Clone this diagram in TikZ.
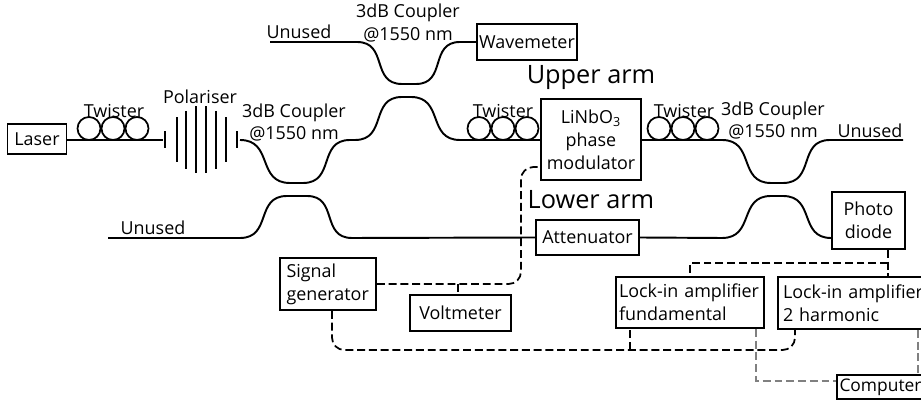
\documentclass[tikz,border=0pt]{standalone}
\usepackage{fontspec}
\setmainfont{Open Sans}
\usetikzlibrary{calc}

\begin{document}
\begin{tikzpicture}[
    x=0.02cm, y=-0.02cm,
    box/.style={draw, line width=1pt, inner sep=0pt, align=center},
    fibre/.style={line width=1.1pt},
    sbend/.style={out=0, in=180, looseness=1.3},
    wire/.style={line width=1pt, dash pattern=on 4.5pt off 2.2pt, rounded corners=7pt},
    greywire/.style={wire, gray, rounded corners=0pt},
    tag/.style={font=\fontsize{10.2}{12}\selectfont, inner sep=0pt},
    arm/.style={font=\fontsize{14.4}{16}\selectfont, inner sep=0pt},
    twist/.style={circle, draw, line width=1pt, minimum size=0.46cm, inner sep=0pt},
    blade/.style={line width=0.8pt},
  ]

  \useasboundingbox (0,0) rectangle (921,401);

  % Boxes
  \node[box, tag, minimum width=1.18cm, minimum height=0.6cm] (laser) at (37,139) {Laser};
  \node[box, tag, minimum width=2cm, minimum height=0.72cm] (wavemeter) at (527,42) {Wavemeter};
  \node[box, tag, minimum width=2cm, minimum height=1.62cm, align=center] (modulator) at (591,139.5)
    {LiNbO\textsubscript{3}\\[1pt]phase\\[1pt]modulator};
  \node[box, tag, minimum width=2.06cm, minimum height=0.7cm] (attenuator) at (587.5,237.5) {Attenuator};
  \node[box, tag, minimum width=1.46cm, minimum height=1.14cm] (diode) at (868.5,220.5) {Photo\\[1pt]diode};
  \node[box, tag, minimum width=1.92cm, minimum height=1.04cm, text width=1.66cm, align=left] (siggen) at (328,284)
    {Signal\\[1pt]generator};
  \node[box, tag, minimum width=2.02cm, minimum height=0.72cm] (voltmeter) at (460.5,313) {Voltmeter};
  \node[box, tag, minimum width=2.96cm, minimum height=1.02cm, text width=2.84cm, align=left] (lockfund) at (690,302.5)
    {Lock-in amplifier\\[1pt]fundamental};
  \node[box, tag, minimum width=3.2cm, minimum height=1.04cm, text width=3cm, align=left] (lockharm) at (858,303)
    {Lock-in amplifier\\[1pt]2 harmonic};
  \node[box, tag, font=\fontsize{9.9}{12}\selectfont, minimum width=1.9cm, minimum height=0.48cm, text width=1.8cm, align=left] (computer) at (884.5,387) {Computer};

  % Labels
  \node[tag] (twa) at (114,111) {Twister};
  \node[tag] (twb) at (503,111) {Twister};
  \node[tag] (twc) at (684,111) {Twister};
  \node[tag] (pol) at (200,97) {Polariser};
  \node[tag, align=center] (cpa) at (294,122.5) {3dB Coupler\\[1pt]@1550 nm};
  \node[tag, align=center] (cpb) at (408,23) {3dB Coupler\\[1pt]@1550 nm};
  \node[tag, align=center] (cpc) at (773,120.5) {3dB Coupler\\[1pt]@1550 nm};
  \node[tag] (una) at (299,32) {Unused};
  \node[tag] (unb) at (153,228) {Unused};
  \node[tag] (unc) at (870,131) {Unused};
  \node[arm] (upper) at (591,78) {Upper arm};
  \node[arm] (lower) at (591,200) {Lower arm};

  % Twisters
  \foreach \cx [count=\i] in {89,113,137} \node[twist] (la\i) at (\cx,128.5) {};
  \foreach \cx [count=\i] in {479,503,527} \node[twist] (lb\i) at (\cx,128.5) {};
  \foreach \cx [count=\i] in {659,683,707} \node[twist] (lc\i) at (\cx,128.5) {};

  % Polariser
  \foreach \px/\half in {165/8.5, 177/22.5, 186/29, 196/33.5, 206/33.5, 216/29, 226/22.5, 237/8.5}
    \draw[blade] (\px,140-\half) -- (\px,140+\half);
  \coordinate (polin) at (163,140);
  \coordinate (polout) at (240,140);

  % Fibre ends
  \coordinate (ua) at (270,42);
  \coordinate (ub) at (108,238);
  \coordinate (uc) at (903,140);

  % Upper fibre
  \draw[fibre] (laser.east |- polin) -- (polin);
  \draw[fibre] (polout) to[sbend] (290,183) -- (303,183) to[sbend] (350,140) -- (355,140)
    to[sbend] (402,97) -- (411,97) to[sbend] (460,140) -- (modulator.west |- polin);
  \draw[fibre] (modulator.east |- polin) -- (722,140) to[sbend] (771,183) -- (783,183)
    to[sbend] (830,140) -- (uc);

  % Top fibre
  \draw[fibre] (ua) -- (357,42) to[sbend] (402,84) -- (416,84) to[sbend] (460,42) -- (wavemeter.west);

  % Lower fibre
  \draw[fibre] (ub) -- (240,238) to[sbend] (287,196) -- (307,196) to[sbend] (352,238) -- (attenuator.west);
  \draw[fibre] (attenuator.east) -- (722,238) to[sbend] (771,196) -- (783,196) to[sbend] (diode.west |- 0,238);

  % Electrical wires
  \draw[wire] (siggen.east) -- (521,284) -- (521,167) -- (modulator.west |- 0,167);
  \draw[wire] (458,284) -- (voltmeter.north -| 458,0);
  \draw[wire] (siggen.south -| 332,0) -- (332,350) -- (795,350) -- (lockharm.south -| 795,0);
  \draw[wire] (630,350) -- (lockfund.south -| 630,0);
  \draw[wire, rounded corners=0pt] (diode.south -| 888,0) -- (lockharm.north -| 888,0);
  \draw[wire, rounded corners=0pt] (888,263) -- (690,263) -- (lockfund.north);

  % Computer wires
  \draw[greywire] (lockfund.south -| 756,0) -- (756,381) -- (computer.west |- 0,381);
  \draw[greywire] (lockharm.south -| 918,0) -- (computer.north -| 918,0);

\end{tikzpicture}
\end{document}
